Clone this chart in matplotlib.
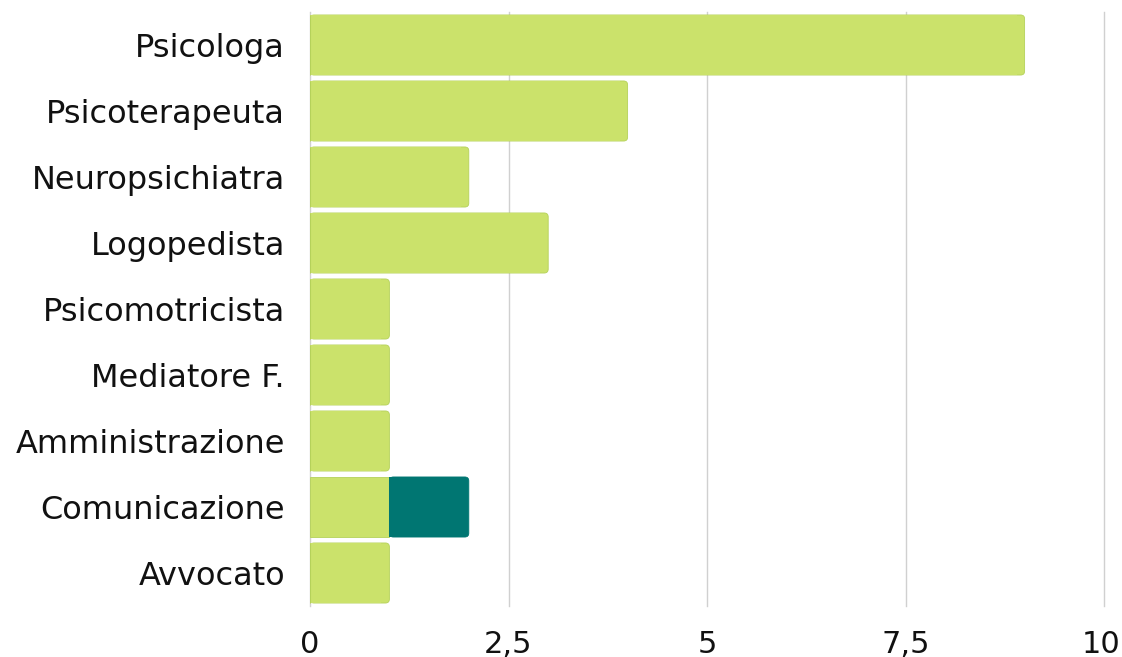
import matplotlib
matplotlib.use("Agg")
import matplotlib.pyplot as plt
import matplotlib.transforms as mtransforms
from matplotlib.patches import FancyBboxPatch

categories = ["Psicologa", "Psicoterapeuta", "Neuropsichiatra", "Logopedista",
              "Psicomotricista", "Mediatore F.", "Amministrazione", "Comunicazione", "Avvocato"]
series1 = [9, 4, 2, 3, 1, 1, 1, 1, 1]
series2 = [0, 0, 0, 0, 0, 0, 0, 1, 0]
xticks = [0, 2.5, 5, 7.5, 10]
xticklabels = ["0", "2,5", "5", "7,5", "10"]

c1 = "#cbe26b"
c2 = "#007672"
e1 = "#b5d15a"

plt.rcParams['font.family'] = ['DejaVu Sans']
fig = plt.figure(figsize=(11.22, 6.57), dpi=100)
ax = fig.add_axes([310/1122, 51/657, 794/1122, 594/657])

n = len(categories)
ys = list(range(n))
h = 0.91
rx = 0.05   # rounding in x data units
ry = 0.06   # rounding in y data units

def seg(y, left, width, color, edge, last):
    if width <= 0:
        return
    if not last:
        ax.barh(y, width, left=left, height=h, color=color, edgecolor=edge, linewidth=0.6, zorder=3)
    else:
        p = FancyBboxPatch((left, y - h/2), width, h,
                           boxstyle=f"round,pad=0,rounding_size={rx}",
                           mutation_aspect=ry/rx, facecolor=color, edgecolor=edge,
                           linewidth=0.6, zorder=3)
        ax.add_patch(p)
        ax.barh(y, width - 2*rx, left=left, height=h - 0.012, color=color,
                edgecolor="none", linewidth=0, zorder=3.2)
        if left == 0:
            ax.plot([0, 0], [y - h/2, y + h/2], color=edge, linewidth=0.8, zorder=3.3,
                    solid_capstyle='butt')

for i, y in enumerate(ys):
    s1, s2 = series1[i], series2[i]
    seg(y, 0, s1, c1, e1, s2 == 0)
    seg(y, s1, s2, c2, c2, True)

ax.set_xlim(0, 10)
ax.set_ylim(n - 0.5, -0.5)
ax.set_yticks(ys)
ax.set_yticklabels(categories)
ax.set_xticks(xticks)
ax.set_xticklabels(xticklabels)
ax.tick_params(axis='y', length=0, labelsize=23, colors="#111111", pad=18)
ax.tick_params(axis='x', length=0, labelsize=22, colors="#111111", pad=17)
for s in ax.spines.values():
    s.set_visible(False)
ax.grid(axis='x', color="#d0d0d0", linewidth=1, zorder=0)
for gl in ax.get_xgridlines():
    gl.set_clip_on(False)
ax.set_axisbelow(True)

last = ax.get_xticklabels()[-1]
last.set_transform(last.get_transform() + mtransforms.ScaledTranslation(-3/100, 0, fig.dpi_scale_trans))

fig.savefig("out.png", dpi=100)
